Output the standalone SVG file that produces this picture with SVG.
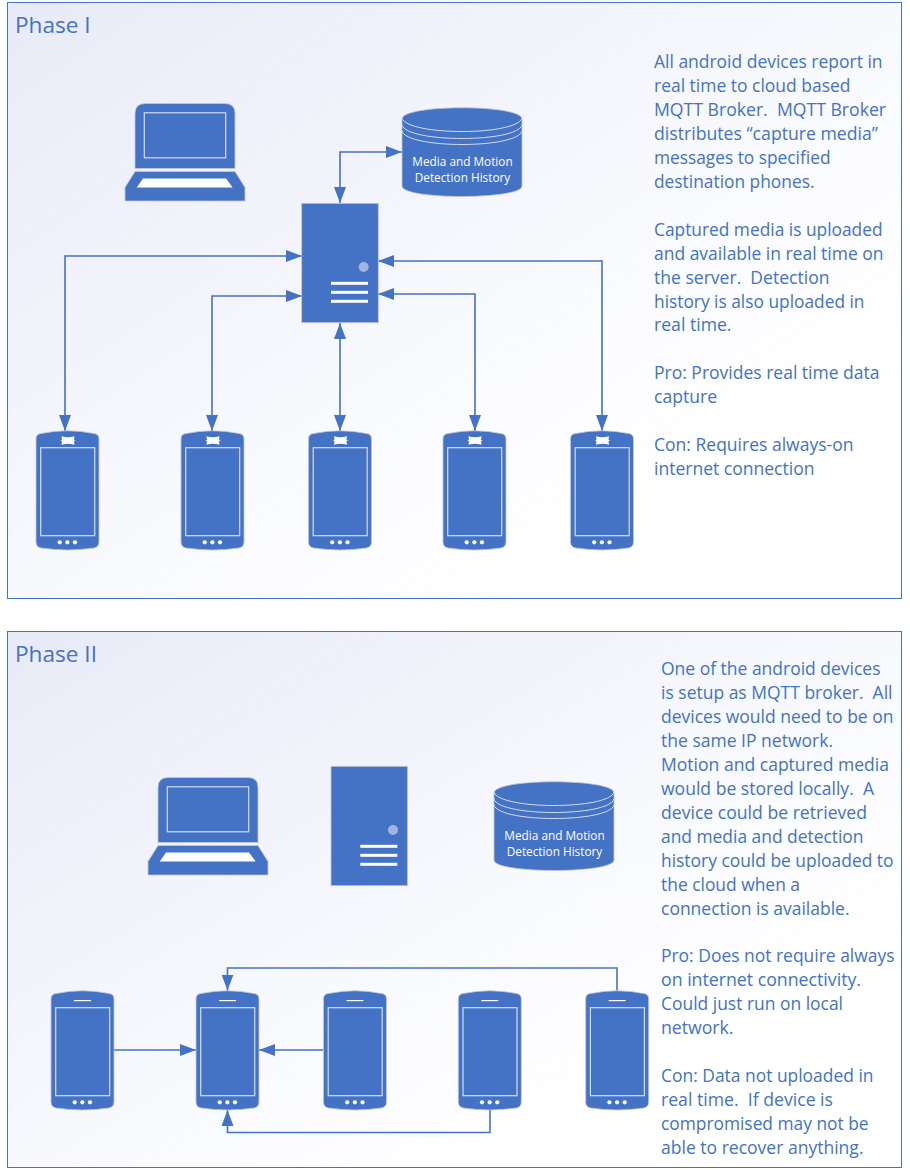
<svg xmlns="http://www.w3.org/2000/svg" width="910" height="1170" viewBox="0 0 910 1170">
<style>
text{font-family:"Open Sans","Noto Sans","Liberation Sans",sans-serif;fill:#4472C4;white-space:pre}
.title{font-size:22.6px}
.body{font-size:17.5px}
.cyl{font-size:11.8px;fill:#fff;text-anchor:middle}
.panel{stroke:#4472C4;stroke-width:1}
.shape{fill:#4472C4;stroke:#c4c8d2;stroke-width:.8}
.wl2{fill:none;stroke:#d5dcf0;stroke-width:1.2}
.wf{fill:#fff}
.conn{fill:none;stroke:#4472C4;stroke-width:1.6}
</style>
<defs>
<linearGradient id="g" x1="0" y1="0" x2="1" y2="1">
<stop offset="0" stop-color="#e8eaf7"/><stop offset=".5" stop-color="#f8f9fd"/><stop offset=".78" stop-color="#fff"/>
</linearGradient>
<marker id="a" viewBox="0 0 16 12" refX="16" refY="6" markerWidth="16" markerHeight="12" markerUnits="userSpaceOnUse" orient="auto-start-reverse"><path d="M0 0L16 6L0 12Z" fill="#4472C4"/></marker>
<symbol id="phoneBody" overflow="visible">
<path class="shape" d="M0 8Q0 3 5 2.500Q31.500 -3 58 2.500Q63 3 63 8V111Q63 116 58 117Q31.500 121 5 117Q0 116 0 111Z"/>
<rect class="wl2" x="4.700" y="16.700" width="54" height="88"/>
<circle class="wf" cx="23.700" cy="111.300" r="2.100"/><circle class="wf" cx="31.400" cy="111.300" r="2.100"/><circle class="wf" cx="39" cy="111.300" r="2.100"/>
</symbol>
<symbol id="bow" overflow="visible">
<path class="wf" d="M25.500 5.200Q32 7.500 38.500 5.200L38 8.700L39.500 9.500L38 10.300L38.500 13.800Q32 11.500 25.500 13.800L26 10.300L24.500 9.500L26 8.700Z"/>
</symbol>
<symbol id="speaker" overflow="visible">
<rect class="wf" x="23" y="9" width="17" height="1.200"/>
</symbol>
<symbol id="laptop" overflow="visible">
<path class="shape" d="M10 65V10Q10 0 20 0H100Q110 0 110 10V65Z"/>
<path class="shape" d="M10 68H110L120 84V97.500H0V84Z"/>
<rect class="wl2" x="19.300" y="9.300" width="81.400" height="45"/>
<path class="wf" d="M18 75H101L107.700 84H11.700Z"/>
</symbol>
<symbol id="server" overflow="visible">
<rect class="shape" width="76.600" height="119.400"/>
<circle cx="62" cy="63.700" r="5" fill="#a2b5e0"/>
<rect class="wf" x="29.300" y="78.500" width="37" height="3"/><rect class="wf" x="29.300" y="87.500" width="37" height="3"/><rect class="wf" x="29.300" y="96.500" width="37" height="3"/>
</symbol>
<symbol id="cylinder" overflow="visible">
<path class="shape" d="M0 11C0 -4 120 -4 120 11V78C120 92 0 92 0 78Z"/>
<path fill="none" stroke="#d5dcf0" stroke-width="1" d="M0 10C5 28 115 28 120 10M0 17C5 35 115 35 120 17M0 23C5 41 115 41 120 23"/>
</symbol>
</defs>

<g id="panel-phase1"><rect class="panel" x="7.500" y="2.500" width="894" height="596" fill="url(#g)"/>
<text class="title" x="15" y="33">Phase I</text></g>
<g id="panel-phase2"><rect class="panel" x="7.500" y="631.500" width="894" height="536" fill="url(#g)"/>
<text class="title" x="15" y="662">Phase II</text></g>

<g id="connectors">
<path class="conn" marker-start="url(#a)" marker-end="url(#a)" d="M340 203V152H402"/>
<path class="conn" marker-start="url(#a)" marker-end="url(#a)" d="M65 431V256H302"/>
<path class="conn" marker-start="url(#a)" marker-end="url(#a)" d="M212 431V296H302"/>
<path class="conn" marker-start="url(#a)" marker-end="url(#a)" d="M340 431V323"/>
<path class="conn" marker-start="url(#a)" marker-end="url(#a)" d="M475 431V294H378"/>
<path class="conn" marker-start="url(#a)" marker-end="url(#a)" d="M602 431V261H378"/>
<path class="conn" marker-end="url(#a)" d="M114 1050H196"/>
<path class="conn" marker-end="url(#a)" d="M323 1050H259"/>
<path class="conn" marker-end="url(#a)" d="M617 990.500V968H227.500V990.500"/>
<path class="conn" marker-end="url(#a)" d="M490 1110V1132.500H227.500V1110"/>
</g>

<g id="laptop1"><use href="#laptop" x="125" y="103.500"/></g>
<g id="server1"><use href="#server" x="301.700" y="203.300"/></g>
<g id="db1"><use href="#cylinder" x="402" y="108"/><text class="cyl" x="462.500" y="166">Media and Motion</text><text class="cyl" x="462.500" y="182">Detection History</text></g>
<g id="laptop2"><use href="#laptop" x="148" y="777.500"/></g>
<g id="server2"><use href="#server" x="331" y="766.300"/></g>
<g id="db2"><use href="#cylinder" x="494" y="782"/><text class="cyl" x="554.500" y="840">Media and Motion</text><text class="cyl" x="554.500" y="856">Detection History</text></g>

<g id="phone1-1"><use href="#phoneBody" x="36" y="431"/><use href="#bow" x="36" y="431"/></g>
<g id="phone1-2"><use href="#phoneBody" x="181" y="431"/><use href="#bow" x="181" y="431"/></g>
<g id="phone1-3"><use href="#phoneBody" x="308.500" y="431"/><use href="#bow" x="308.500" y="431"/></g>
<g id="phone1-4"><use href="#phoneBody" x="443" y="431"/><use href="#bow" x="443" y="431"/></g>
<g id="phone1-5"><use href="#phoneBody" x="570.500" y="431"/><use href="#bow" x="570.500" y="431"/></g>

<g id="phone2-1"><use href="#phoneBody" x="51" y="991"/><use href="#speaker" x="51" y="991"/></g>
<g id="phone2-2"><use href="#phoneBody" x="196" y="991"/><use href="#speaker" x="196" y="991"/></g>
<g id="phone2-3"><use href="#phoneBody" x="323.500" y="991"/><use href="#speaker" x="323.500" y="991"/></g>
<g id="phone2-4"><use href="#phoneBody" x="458.300" y="991"/><use href="#speaker" x="458.300" y="991"/></g>
<g id="phone2-5"><use href="#phoneBody" x="585.700" y="991"/><use href="#speaker" x="585.700" y="991"/></g>

<g id="notes1">
<text class="body" x="654" y="68" textLength="228.500" lengthAdjust="spacingAndGlyphs">All android devices report in</text>
<text class="body" x="654" y="91.950" textLength="196.500" lengthAdjust="spacingAndGlyphs">real time to cloud based</text>
<text class="body" x="654" y="115.900" textLength="232" lengthAdjust="spacingAndGlyphs">MQTT Broker.  MQTT Broker</text>
<text class="body" x="654" y="139.850" textLength="224" lengthAdjust="spacingAndGlyphs">distributes “capture media”</text>
<text class="body" x="654" y="163.800" textLength="176.500" lengthAdjust="spacingAndGlyphs">messages to specified</text>
<text class="body" x="654" y="187.750" textLength="160.500" lengthAdjust="spacingAndGlyphs">destination phones.</text>
<text class="body" x="654" y="235.650" textLength="228.500" lengthAdjust="spacingAndGlyphs">Captured media is uploaded</text>
<text class="body" x="654" y="259.600" textLength="229.500" lengthAdjust="spacingAndGlyphs">and available in real time on</text>
<text class="body" x="654" y="283.550" textLength="175.500" lengthAdjust="spacingAndGlyphs">the server.  Detection</text>
<text class="body" x="654" y="307.500" textLength="210.500" lengthAdjust="spacingAndGlyphs">history is also uploaded in</text>
<text class="body" x="654" y="331.450" textLength="77.500" lengthAdjust="spacingAndGlyphs">real time.</text>
<text class="body" x="654" y="379.350" textLength="225.500" lengthAdjust="spacingAndGlyphs">Pro: Provides real time data</text>
<text class="body" x="654" y="403.300" textLength="63" lengthAdjust="spacingAndGlyphs">capture</text>
<text class="body" x="654" y="451.200" textLength="199.500" lengthAdjust="spacingAndGlyphs">Con: Requires always-on</text>
<text class="body" x="654" y="475.150" textLength="160.500" lengthAdjust="spacingAndGlyphs">internet connection</text>
</g>
<g id="notes2">
<text class="body" x="661" y="675" textLength="219.500" lengthAdjust="spacingAndGlyphs">One of the android devices</text>
<text class="body" x="661" y="698.950" textLength="231.500" lengthAdjust="spacingAndGlyphs">is setup as MQTT broker.  All</text>
<text class="body" x="661" y="722.900" textLength="232.500" lengthAdjust="spacingAndGlyphs">devices would need to be on</text>
<text class="body" x="661" y="746.850" textLength="172" lengthAdjust="spacingAndGlyphs">the same IP network.</text>
<text class="body" x="661" y="770.800" textLength="228" lengthAdjust="spacingAndGlyphs">Motion and captured media</text>
<text class="body" x="661" y="794.750" textLength="213" lengthAdjust="spacingAndGlyphs">would be stored locally.  A</text>
<text class="body" x="661" y="818.700" textLength="206" lengthAdjust="spacingAndGlyphs">device could be retrieved</text>
<text class="body" x="661" y="842.650" textLength="202.500" lengthAdjust="spacingAndGlyphs">and media and detection</text>
<text class="body" x="661" y="866.600" textLength="232.500" lengthAdjust="spacingAndGlyphs">history could be uploaded to</text>
<text class="body" x="661" y="890.550" textLength="139" lengthAdjust="spacingAndGlyphs">the cloud when a</text>
<text class="body" x="661" y="914.500" textLength="188.500" lengthAdjust="spacingAndGlyphs">connection is available.</text>
<text class="body" x="661" y="962.400" textLength="233.500" lengthAdjust="spacingAndGlyphs">Pro: Does not require always</text>
<text class="body" x="661" y="986.350" textLength="200" lengthAdjust="spacingAndGlyphs">on internet connectivity.</text>
<text class="body" x="661" y="1010.300" textLength="182" lengthAdjust="spacingAndGlyphs">Could just run on local</text>
<text class="body" x="661" y="1034.250" textLength="72.500" lengthAdjust="spacingAndGlyphs">network.</text>
<text class="body" x="661" y="1082.150" textLength="212.500" lengthAdjust="spacingAndGlyphs">Con: Data not uploaded in</text>
<text class="body" x="661" y="1106.100" textLength="172" lengthAdjust="spacingAndGlyphs">real time.  If device is</text>
<text class="body" x="661" y="1130.050" textLength="207.500" lengthAdjust="spacingAndGlyphs">compromised may not be</text>
<text class="body" x="661" y="1154" textLength="202.500" lengthAdjust="spacingAndGlyphs">able to recover anything.</text>
</g>
</svg>
